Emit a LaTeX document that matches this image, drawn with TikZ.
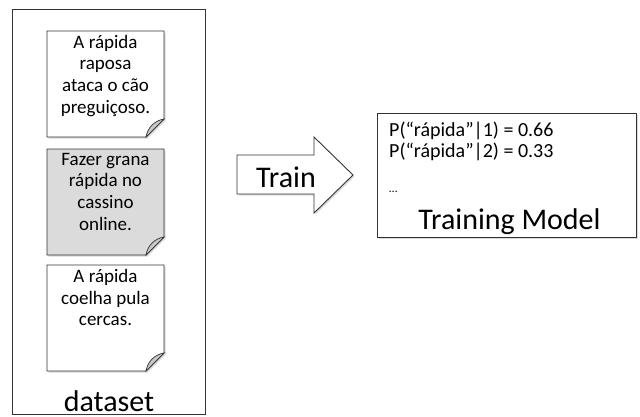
\documentclass[tikz,border=0pt]{standalone}
\usepackage{fontspec}
\setmainfont{Carlito}
\usetikzlibrary{shadows}
\tikzstyle{container}=[rectangle,draw=black!80,line width=0.9pt,minimum width=193pt,minimum height=405pt]
\tikzstyle{paper}=[draw=black!80,line width=0.9pt,fill=white,drop shadow={shadow xshift=1.5pt,shadow yshift=-1.5pt,opacity=0.3}]
\tikzstyle{spam}=[paper,fill=black!14]
\tikzstyle{flap}=[draw=black!80,line width=0.7pt,fill=black!22]
\tikzstyle{doctext}=[align=center,inner sep=0pt,anchor=north,font=\fontsize{19}{21.6}\selectfont]
\tikzstyle{bigtext}=[inner sep=0pt,anchor=base,font=\fontsize{30}{36}\selectfont]
\tikzstyle{probtext}=[inner sep=0pt,anchor=base west,font=\fontsize{20}{21}\selectfont]
\tikzstyle{modelbox}=[rectangle,draw=black!80,line width=0.9pt,fill=white,minimum width=259pt,minimum height=124pt,drop shadow={shadow xshift=1.5pt,shadow yshift=-1.5pt,opacity=0.3}]
\tikzstyle{blockarrow}=[draw=black!80,line width=0.9pt,fill=white,drop shadow={shadow xshift=1.5pt,shadow yshift=-1.5pt,opacity=0.3}]

% sheet of paper with a folded corner: x, y (top left), style
\newcommand{\sheetat}[3]{%
  \draw[#3] (#1,#2) -- ++(117,0) -- ++(0,88) -- ++(-18,18) -- ++(-99,0) -- cycle;
  \draw[flap] ({#1+117},{#2+88}) to[bend right=15] ++(-12,6) to[bend right=15] ++(-6,12) -- cycle;
}

\begin{document}
\begin{tikzpicture}[x=1pt,y=-1pt]
  \useasboundingbox (0,0) rectangle (640,416);
  % dataset
  \node[container] (dataset) at (108.5,211.5) {};
  \sheetat{47}{31}{paper}
  \sheetat{47}{149}{spam}
  \sheetat{47}{265}{paper}
  \node[doctext] (doc1) at (105.5,35) {A rápida\\raposa\\ataca o cão\\preguiçoso.};
  \node[doctext] (doc2) at (105.5,153) {Fazer grana\\rápida no\\cassino\\online.};
  \node[doctext] (doc3) at (105.5,269) {A rápida\\coelha pula\\cercas.};
  \node[bigtext] (datalabel) at (109,411) {dataset};
  % train arrow
  \draw[blockarrow] (237,155) -- (314,155) -- (314,137) -- (353,175) -- (314,213) -- (314,194) -- (237,194) -- cycle;
  \node[bigtext] (train) at (286,187) {Train};
  % model
  \node[modelbox] (model) at (506.5,175) {};
  \node[probtext] (prob1) at (389,136) {P(“rápida”|1) = 0.66};
  \node[probtext] (prob2) at (389,157) {P(“rápida”|2) = 0.33};
  \node[probtext,font=\fontsize{12}{14}\selectfont] (dots) at (389,192) {…};
  \node[bigtext] (modelname) at (509.5,229) {Training Model};
\end{tikzpicture}
\end{document}
